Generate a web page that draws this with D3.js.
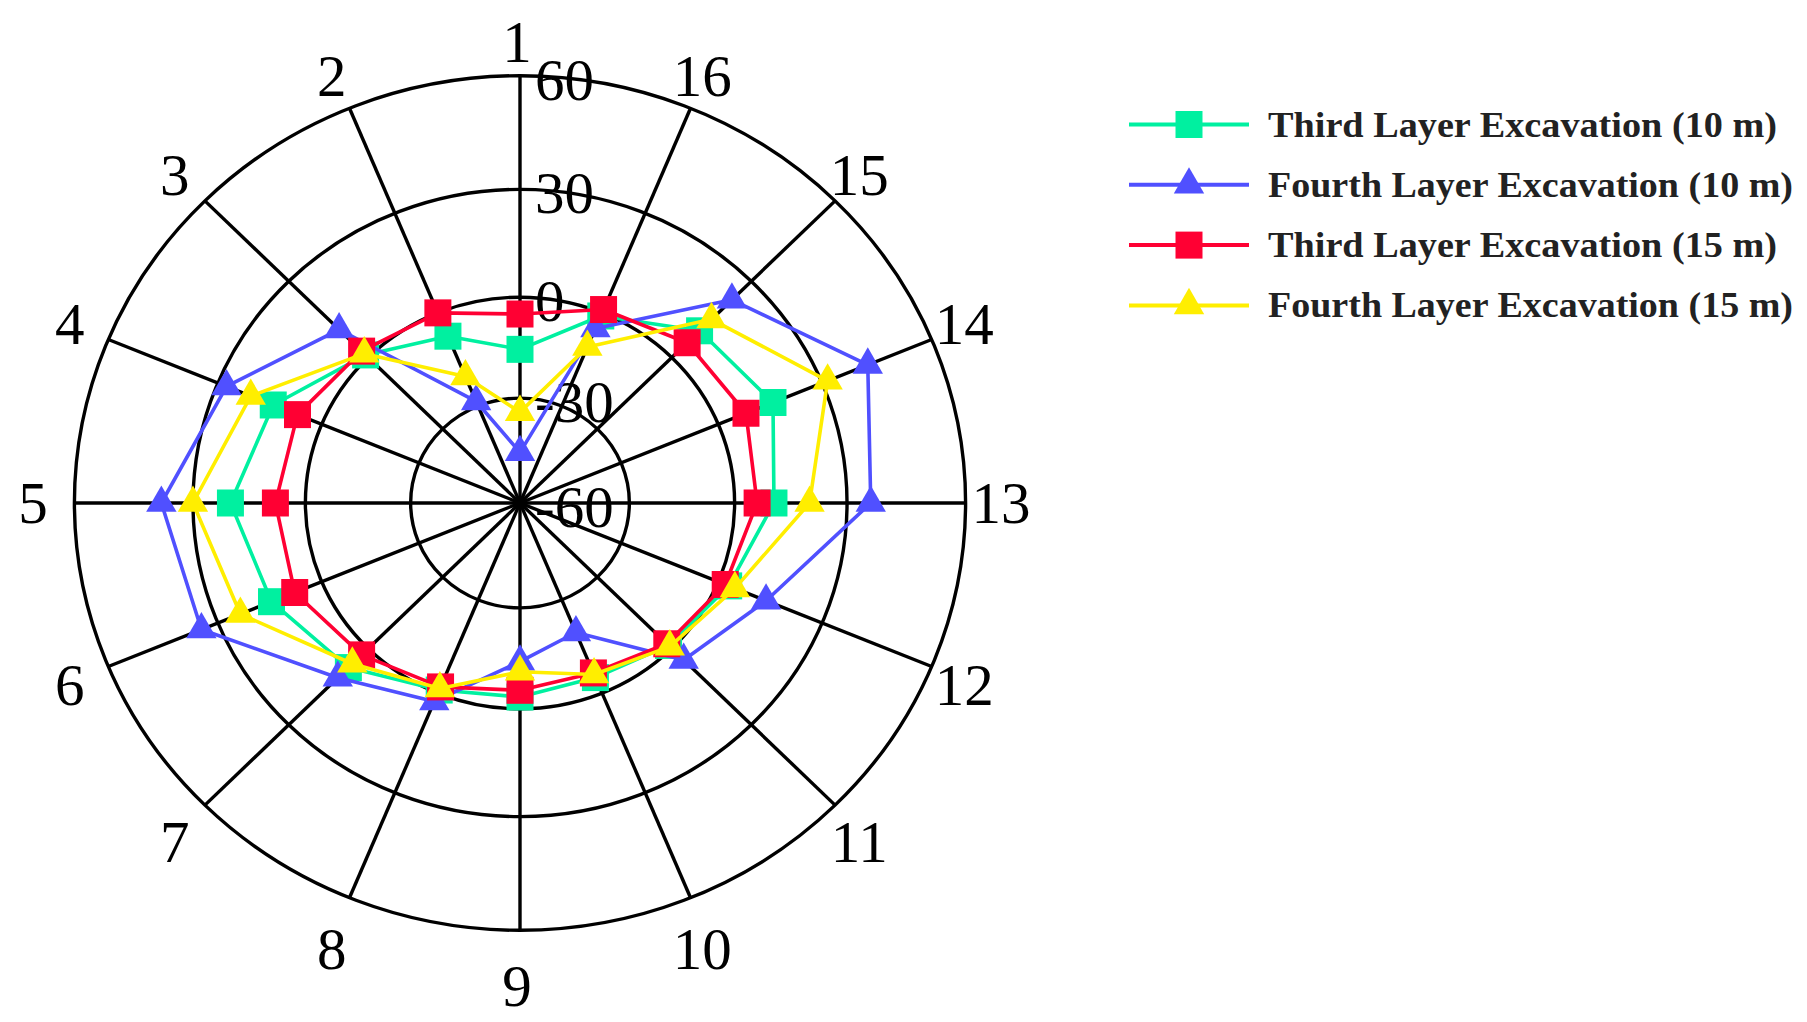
<!DOCTYPE html>
<html><head><meta charset="utf-8">
<script src="https://cdn.jsdelivr.net/npm/d3@7"></script>
<style>html,body{margin:0;padding:0;background:#fff}</style>
</head><body><svg id="c" width="1807" height="1022"></svg>
<script>
// ---- data ----
const categories = ["1","2","3","4","5","6","7","8","9","10","11","12","13","14","15","16"];
const radialTicks = [-60, -30, 0, 30, 60];
const radialTickLabels = ["-60", "-30", "0", "30", "60"];
const thirdLayer10m  = [-15.5, -7.5, 1, 14, 20, 14.5, 7.5, -1, -3.5, -5, -1.3, 3, 10.5, 15.8, 10.5, -1];
const fourthLayer10m = [-45.5, -28.5, 11, 27.5, 38, 34.5, 11.5, 2.5, -14, -19.5, 4.5, 13.8, 36, 42.5, 22.7, -5];
const thirdLayer15m  = [-5, 0, 2.5, 7, 8, 7.8, 2.5, -2, -5.5, -6.5, -2, 2, 6, 8, 5.8, 1];
const fourthLayer15m = [-34, -20.5, 1.5, 20.5, 30, 23.5, 6, -1.5, -11, -6, -0.8, 4.8, 20, 31.5, 15, -11];
const seriesNames = ["Third Layer Excavation (10 m)", "Fourth Layer Excavation (10 m)",
                     "Third Layer Excavation (15 m)", "Fourth Layer Excavation (15 m)"];
const seriesValues = [thirdLayer10m, fourthLayer10m, thirdLayer15m, fourthLayer15m];
const seriesColors = ["#00f0a0", "#5050ff", "#ff0033", "#ffee00"];
const seriesShapes = ["square", "triangle", "square", "triangle"];

// ---- layout ----
const cx = 520, cy = 503, kx = 1.022, ky = 0.98;
const svg = d3.select("#c");
svg.append("rect").attr("width", 1807).attr("height", 1022).attr("fill", "#fff");

const r = d3.scaleLinear().domain(radialTicks).range([0, 107, 210, 320, 436]);
const angle = d3.scaleLinear().domain([0, categories.length]).range([0, 2 * Math.PI]);
const px = (i, v) => cx - r(v) * kx * Math.sin(angle(i));
const py = (i, v) => cy - r(v) * ky * Math.cos(angle(i));

const grid = svg.append("g");
grid.selectAll("ellipse").data(radialTicks.slice(1)).join("ellipse")
  .attr("cx", cx).attr("cy", cy)
  .attr("rx", d => r(d) * kx).attr("ry", d => r(d) * ky)
  .attr("fill", "none").attr("stroke", "#000").attr("stroke-width", 3.4);
grid.selectAll("line").data(categories).join("line")
  .attr("x1", cx).attr("y1", cy)
  .attr("x2", (d, i) => px(i, 60)).attr("y2", (d, i) => py(i, 60))
  .attr("stroke", "#000").attr("stroke-width", 3.4);

// category labels
svg.append("g").selectAll("text").data(categories).join("text")
  .attr("x", (d, i) => 517 - 484 * Math.sin(angle(i)))
  .attr("y", (d, i) => { const c = Math.cos(angle(i)); return 503 - 472 * c + 11 * c * c; })
  .attr("dy", "0.34em")
  .attr("text-anchor", "middle")
  .attr("font-family", "'Liberation Serif','Times New Roman',serif")
  .attr("font-size", 59)
  .attr("fill", "#000")
  .text(d => d);

// radial tick labels
svg.append("g").selectAll("text").data(radialTicks).join("text")
  .attr("x", cx + 15)
  .attr("y", d => cy - r(d) * ky + 24)
  .attr("font-family", "'Liberation Serif','Times New Roman',serif")
  .attr("font-size", 59)
  .attr("fill", "#000")
  .text((d, i) => radialTickLabels[i]);

// series
const line = d3.line().curve(d3.curveLinearClosed);
const symSq = d3.symbol(d3.symbolSquare, 729);
const symTri = d3.symbol(d3.symbolTriangle, 400);
seriesValues.forEach((vals, s) => {
  const g = svg.append("g");
  g.append("path")
    .attr("d", line(vals.map((v, i) => [px(i, v), py(i, v)])))
    .attr("fill", "none").attr("stroke", seriesColors[s]).attr("stroke-width", 3.6)
    .attr("stroke-linejoin", "round");
  g.selectAll("path.m").data(vals).join("path").attr("class", "m")
    .attr("d", seriesShapes[s] === "square" ? symSq() : symTri())
    .attr("transform", (v, i) => `translate(${px(i, v)},${py(i, v)})`)
    .attr("fill", seriesColors[s]);
});

// legend
const lg = svg.append("g");
const widths = [509, 525, 509, 525];
seriesNames.forEach((name, s) => {
  const y = 124.5 + 60.3 * s;
  lg.append("line").attr("x1", 1129).attr("x2", 1249).attr("y1", y).attr("y2", y)
    .attr("stroke", seriesColors[s]).attr("stroke-width", 4);
  lg.append("path")
    .attr("d", seriesShapes[s] === "square" ? symSq() : symTri())
    .attr("transform", `translate(1189,${y})`).attr("fill", seriesColors[s]);
  lg.append("text").attr("x", 1268).attr("y", y + 12)
    .attr("font-family", "'Liberation Serif','Times New Roman',serif")
    .attr("font-weight", "bold").attr("font-size", 36)
    .attr("fill", "#222")
    .attr("textLength", widths[s]).attr("lengthAdjust", "spacingAndGlyphs")
    .text(name);
});
</script></body></html>
